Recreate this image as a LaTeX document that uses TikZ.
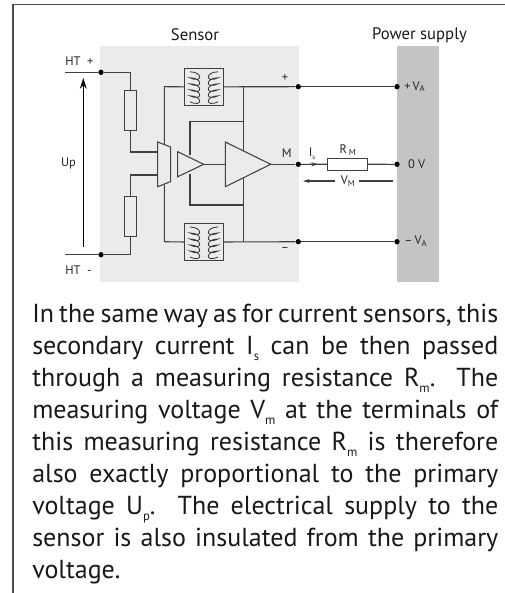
\documentclass[tikz,border=0pt]{standalone}
\usepackage{fontspec}
\setmainfont{PT Sans}
\usetikzlibrary{arrows.meta}
\newcommand{\lowsub}[1]{\raisebox{-0.5ex}{\fontsize{9.5}{10}\selectfont #1}}
\newcommand{\lblsub}[1]{\raisebox{-0.3ex}{\fontsize{6.5}{6}\selectfont #1}}
\tikzset{
	wire/.style={line width=0.8pt,black!75},
	fine/.style={line width=0.6pt,black!80},
	part/.style={draw=black!75,line width=0.8pt,fill=black!8,inner sep=0pt},
	dot/.style={circle,fill=black,inner sep=0pt,minimum size=4pt},
	lbl/.style={font=\fontsize{9.3}{10}\selectfont,inner sep=0pt,text=black!85},
	head/.style={font=\fontsize{12.5}{12}\selectfont,inner sep=0pt,text=black!90}
}
\begin{document}
\begin{tikzpicture}[x=0.75pt,y=-0.75pt]
		\useasboundingbox (0,0) rectangle (505,593);
		% frame
		\coordinate (fa) at (505,4.5);
		\coordinate (fb) at (13,4.5);
		\coordinate (fc) at (13,593);
		\draw[line width=0.8pt,black!70] (fa)--(fb)--(fc);
		% blocks
		\fill[black!8] (100,46) rectangle (299,282);
		\fill[black!23] (397,46) rectangle (439,282);
		\node[head] (sensor) at (195,35) {Sensor};
		\node[head] (supply) at (419.5,35) {Power supply};
		% terminals
		\node[dot] (htp) at (101,72.3) {};
		\node[dot] (htm) at (101,254.7) {};
		\node[dot] (sp) at (298.3,86.7) {};
		\node[dot] (sm) at (298.3,164.3) {};
		\node[dot] (sn) at (298.3,241.7) {};
		\node[dot] (pp) at (397,86.7) {};
		\node[dot] (pm) at (397,164.3) {};
		\node[dot] (pn) at (397,241.7) {};
		\coordinate (htpl) at (65,72.3);
		\coordinate (html) at (65,254.7);
		\draw[wire] (htpl)--(htp);
		\draw[wire] (html)--(htm);
		% input resistors
		\node[part,minimum width=8.6pt,minimum height=30pt] (r1) at (130.5,110.7) {};
		\node[part,minimum width=8.6pt,minimum height=30pt] (r2) at (130.5,216.2) {};
		\coordinate (ina) at (158,152);
		\coordinate (inb) at (158,175);
		\draw[wire] (htp)-|(r1.north);
		\draw[wire] (r1.south)|-(ina);
		\draw[wire] (htm)-|(r2.south);
		\draw[wire] (r2.north)|-(inb);
		% amplifier stages
		\coordinate (ta) at (157.7,142);
		\coordinate (tb) at (170.7,147);
		\coordinate (tc) at (170.7,181.5);
		\coordinate (td) at (157.7,186.7);
		\draw[wire] (ta)--(tb)--(tc)--(td)--cycle;
		\coordinate (sa) at (177.7,151.7);
		\coordinate (sb) at (177.7,176.7);
		\coordinate (sc) at (203.7,164.3);
		\draw[wire] (sa)--(sc)--(sb)--cycle;
		\coordinate (la) at (225.3,142);
		\coordinate (lb) at (225.3,186.7);
		\coordinate (lc) at (270.7,164.3);
		\draw[wire] (la)--(lc)--(lb)--cycle;
		\coordinate (lin) at (225.3,164.3);
		\draw[wire] (sc)--(lin);
		\draw[wire] (lc)--(sm);
		% transformers
		\node[part,minimum width=29pt,minimum height=27.4pt] (t1) at (204,86.8) {};
		\node[part,minimum width=29pt,minimum height=27.4pt] (t2) at (204,242) {};
		\foreach \ty in {86.8,242}{
			\foreach \tx/\tf in {190/1,218/-1}{
				\draw[fine] (\tx,\ty-15)
					\foreach \ti in {0,1,2,3,4}{
						.. controls +(13*\tf,0) and +(13*\tf,6) .. ++(0,6)
					};
			}
		}
		% supply wires
		\coordinate (ja) at (164.3,86.7);
		\coordinate (jb) at (164.3,241.7);
		\coordinate (jc) at (243.7,86.7);
		\coordinate (jd) at (243.7,241.7);
		\draw[wire] (164.3,144)--(ja)--(t1.west);
		\draw[wire] (164.3,185)--(jb)--(t2.west);
		\draw[wire] (t1.east)--(sp);
		\draw[wire] (t2.east)--(sn);
		\draw[wire] (jc)--(243.7,151);
		\draw[wire] (jd)--(243.7,177.5);
		\draw[wire] (190,155)--(190,121.7)--(243.7,121.7);
		\draw[wire] (190,173.5)--(190,205)--(243.7,205);
		% output side
		\node[part,fill=white,minimum width=30pt,minimum height=8.8pt] (rm) at (347.3,164.2) {};
		\draw[wire] (sp)--(pp);
		\draw[wire] (sn)--(pn);
		\draw[wire] (sm)--(rm);
		\draw[wire] (rm)--(pm);
		\coordinate (isa) at (309,164.3);
		\coordinate (isb) at (318,164.3);
		\draw[-{Stealth[length=5pt,width=3pt]},wire] (isa)--(isb);
		\coordinate (vma) at (335,181);
		\coordinate (vmb) at (303,181);
		\coordinate (vmc) at (359,181);
		\coordinate (vmd) at (392.7,181);
		\draw[-{Stealth[length=5pt,width=3pt]},wire] (vma)--(vmb);
		\draw[wire] (vmc)--(vmd);
		\coordinate (upa) at (83.3,246.7);
		\coordinate (upb) at (83.3,78);
		\draw[-{Stealth[length=8pt,width=5pt]},line width=0.8pt] (upa)--(upb);
		% labels
		\node[lbl,anchor=west] (lhtp) at (65,61.5) {HT\ \ +};
		\node[lbl,anchor=west] (lhtm) at (65,270.5) {HT\ \ -};
		\node[lbl] (lup) at (68.5,163) {Up};
		\node[lbl] (lp) at (285,78.5) {+};
		\node[lbl] (lm) at (286.7,152.7) {M};
		\node[lbl] (ln) at (285,249.5) {--};
		\node[lbl,anchor=west] (lis) at (308.5,153.5) {I\raisebox{-0.4ex}{\fontsize{5}{5}\selectfont s}};
		\node[lbl] (lrm) at (347.7,150) {R\,\lblsub{M}};
		\node[lbl] (lvm) at (347.7,181) {V\lblsub{M}};
		\node[lbl,anchor=west] (lvp) at (404,86.7) {+\,V\lblsub{A}};
		\node[lbl] (lv0) at (416.7,164.3) {0 V};
		\node[lbl,anchor=west] (lvn) at (404,241.2) {--\,V\lblsub{A}};
		% text below
		\node[anchor=north west,inner sep=0pt,text width=349.5pt,align=justify,font=\fontsize{19.5}{24}\selectfont,text=black!90] (body) at (32,303.5) {In the same way as for current sensors, this\linebreak secondary current I\lowsub{s} can be then passed\linebreak through a measuring resistance R\lowsub{m}. The\linebreak measuring voltage V\lowsub{m} at the terminals of\linebreak this measuring resistance R\lowsub{m} is therefore\linebreak also exactly proportional to the primary\linebreak voltage U\lowsub{p}. The electrical supply to the\linebreak sensor is also insulated from the primary\linebreak voltage.};
	\end{tikzpicture}
\end{document}
